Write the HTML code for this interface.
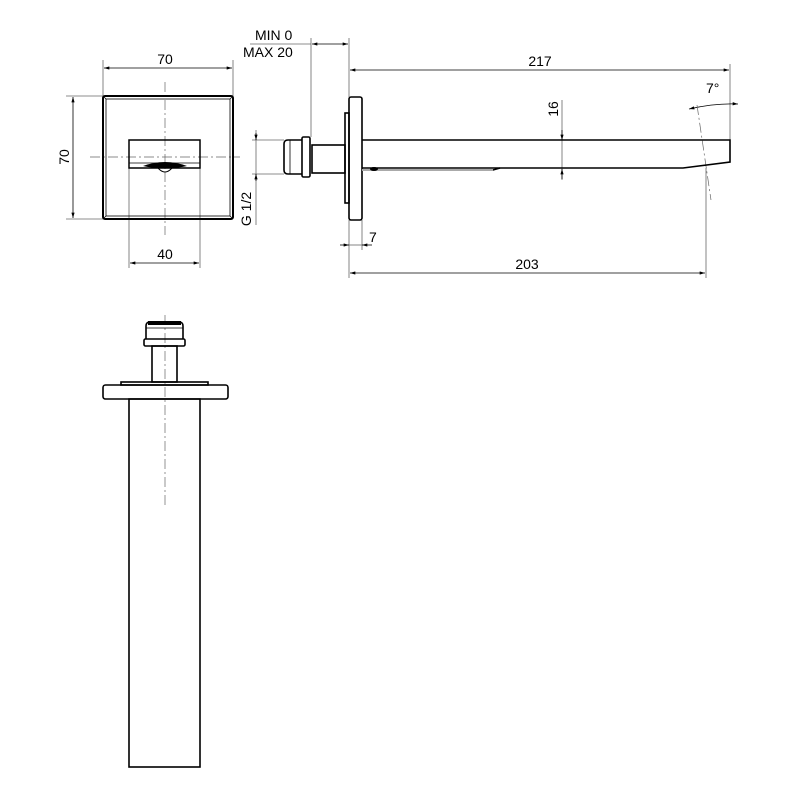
<!DOCTYPE html>
<html><head><meta charset="utf-8"><style>html,body{margin:0;padding:0;background:#fff}svg{display:block}</style></head>
<body>
<svg width="800" height="800" viewBox="0 0 800 800" xmlns="http://www.w3.org/2000/svg" font-family="Liberation Sans, sans-serif" font-size="14" fill="none">
<defs>
<marker id="a" viewBox="0 0 10 6" refX="10" refY="3" markerWidth="8" markerHeight="4" orient="auto-start-reverse"><path d="M0,0L10,3L0,6z" fill="#000"/></marker>
</defs>
<g stroke="#666" stroke-width="0.8">
<line x1="103" y1="60" x2="103" y2="96"/><line x1="233" y1="60" x2="233" y2="96"/>
<line x1="104" y1="68" x2="232" y2="68" marker-start="url(#a)" marker-end="url(#a)" stroke="#000"/>
<line x1="66" y1="96" x2="103" y2="96"/><line x1="66" y1="219" x2="103" y2="219"/>
<line x1="73" y1="97" x2="73" y2="218" marker-start="url(#a)" marker-end="url(#a)" stroke="#000"/>
<line x1="129" y1="168" x2="129" y2="268"/><line x1="200" y1="168" x2="200" y2="268"/>
<line x1="130" y1="263" x2="199" y2="263" marker-start="url(#a)" marker-end="url(#a)" stroke="#000"/>
<line x1="311" y1="38" x2="311" y2="137"/><line x1="349" y1="38" x2="349" y2="97"/>
<line x1="250" y1="44" x2="311" y2="44"/>
<line x1="312" y1="44" x2="348" y2="44" marker-start="url(#a)" marker-end="url(#a)" stroke="#000"/>
<line x1="350" y1="70" x2="729" y2="70" marker-start="url(#a)" marker-end="url(#a)" stroke="#000"/>
<line x1="730" y1="64" x2="730" y2="140"/>
<line x1="252" y1="140" x2="284" y2="140"/><line x1="252" y1="174" x2="284" y2="174"/>
<line x1="256" y1="130" x2="256" y2="225"/>
<line x1="256" y1="133" x2="256" y2="140" marker-end="url(#a)" stroke="#000"/>
<line x1="256" y1="181" x2="256" y2="174" marker-end="url(#a)" stroke="#000"/>
<line x1="362" y1="220" x2="362" y2="250"/>
<line x1="349" y1="220" x2="349" y2="278"/>
<line x1="340" y1="245" x2="349" y2="245" marker-end="url(#a)" stroke="#000"/>
<line x1="372" y1="245" x2="362" y2="245" marker-end="url(#a)" stroke="#000"/>
<line x1="349" y1="245" x2="362" y2="245"/>
<line x1="350" y1="273" x2="705" y2="273" marker-start="url(#a)" marker-end="url(#a)" stroke="#000"/>
<line x1="706" y1="168" x2="706" y2="278"/>
<line x1="562" y1="100" x2="562" y2="180"/>
<line x1="562" y1="130" x2="562" y2="140" marker-end="url(#a)" stroke="#000"/>
<line x1="562" y1="179" x2="562" y2="169" marker-end="url(#a)" stroke="#000"/>
<path d="M689,109 Q715,103 738,104" marker-start="url(#a)" marker-end="url(#a)" stroke="#000"/>
</g>
<g stroke="#666" stroke-width="0.7" stroke-dasharray="10,3,2,3">
<line x1="165" y1="82" x2="165" y2="235"/><line x1="90" y1="157" x2="240" y2="157"/>
<line x1="697" y1="105" x2="711" y2="200"/>
<line x1="165" y1="315" x2="165" y2="505"/>
</g>
<g stroke="#000" stroke-width="2">
<rect x="103" y="96" width="130" height="123" rx="2"/>
</g>
<g stroke="#000" stroke-width="0.8">
<rect x="106" y="99" width="124" height="117"/>
<line x1="103" y1="96" x2="106" y2="99"/><line x1="233" y1="96" x2="230" y2="99"/>
<line x1="103" y1="219" x2="106" y2="216"/><line x1="233" y1="219" x2="230" y2="216"/>
</g>
<rect x="129" y="140" width="71" height="28" stroke="#000" stroke-width="1.5"/>
<line x1="129" y1="163" x2="200" y2="163" stroke="#000" stroke-width="0.8"/>
<path d="M143,166 Q165,158 187,166 Q165,171 143,166z" fill="#000"/>
<path d="M158,168 Q165,176 172,168" stroke="#000" stroke-width="1"/>
<g stroke="#000" stroke-width="1.6">
<rect x="349" y="97" width="13" height="123" rx="2"/>
<rect x="345" y="113" width="4" height="90"/>
<path d="M362,140 L730,140 L730,162 L683,168 L362,168"/>
<path d="M362,170 L493,170 L500,168"/>
<rect x="312" y="145" width="33" height="28"/>
<rect x="302" y="137" width="8" height="40" rx="1.5"/>
<path d="M302,140 L288,140 Q284,140 284,144 L284,170 Q284,174 288,174 L302,174"/>
<line x1="290" y1="140" x2="290" y2="174" stroke-width="0.8"/>
</g>
<line x1="362" y1="170" x2="493" y2="170" stroke="#aaa" stroke-width="2"/>
<ellipse cx="374" cy="169" rx="4" ry="2" fill="#000"/>
<g stroke="#000" stroke-width="1.6">
<rect x="103" y="385" width="125" height="14" rx="2.5"/>
<rect x="121" y="382" width="87" height="3"/>
<rect x="129" y="399" width="71" height="368"/>
<rect x="152" y="346" width="25" height="36"/>
<rect x="144" y="339" width="41" height="7" rx="1.5"/>
<path d="M146,339 L146,326 Q146,322 150,322 L179,322 Q183,322 183,326 L183,339"/>
<line x1="146" y1="328" x2="183" y2="328" stroke-width="0.8"/>
</g>
<rect x="148" y="321" width="33" height="4" fill="#000"/>
<g fill="#000" stroke="none">
<text x="165" y="64" text-anchor="middle">70</text>
<text x="165" y="259" text-anchor="middle">40</text>
<text transform="translate(69,157) rotate(-90)" text-anchor="middle">70</text>
<text x="255" y="40">MIN 0</text>
<text x="243" y="57">MAX 20</text>
<text x="540" y="66" text-anchor="middle">217</text>
<text x="527" y="269" text-anchor="middle">203</text>
<text x="369" y="242">7</text>
<text x="706" y="93">7°</text>
<text transform="translate(558,109) rotate(-90)" text-anchor="middle">16</text>
<text transform="translate(251,209) rotate(-90)" text-anchor="middle">G 1/2</text>
</g>
</svg>
</body></html>
